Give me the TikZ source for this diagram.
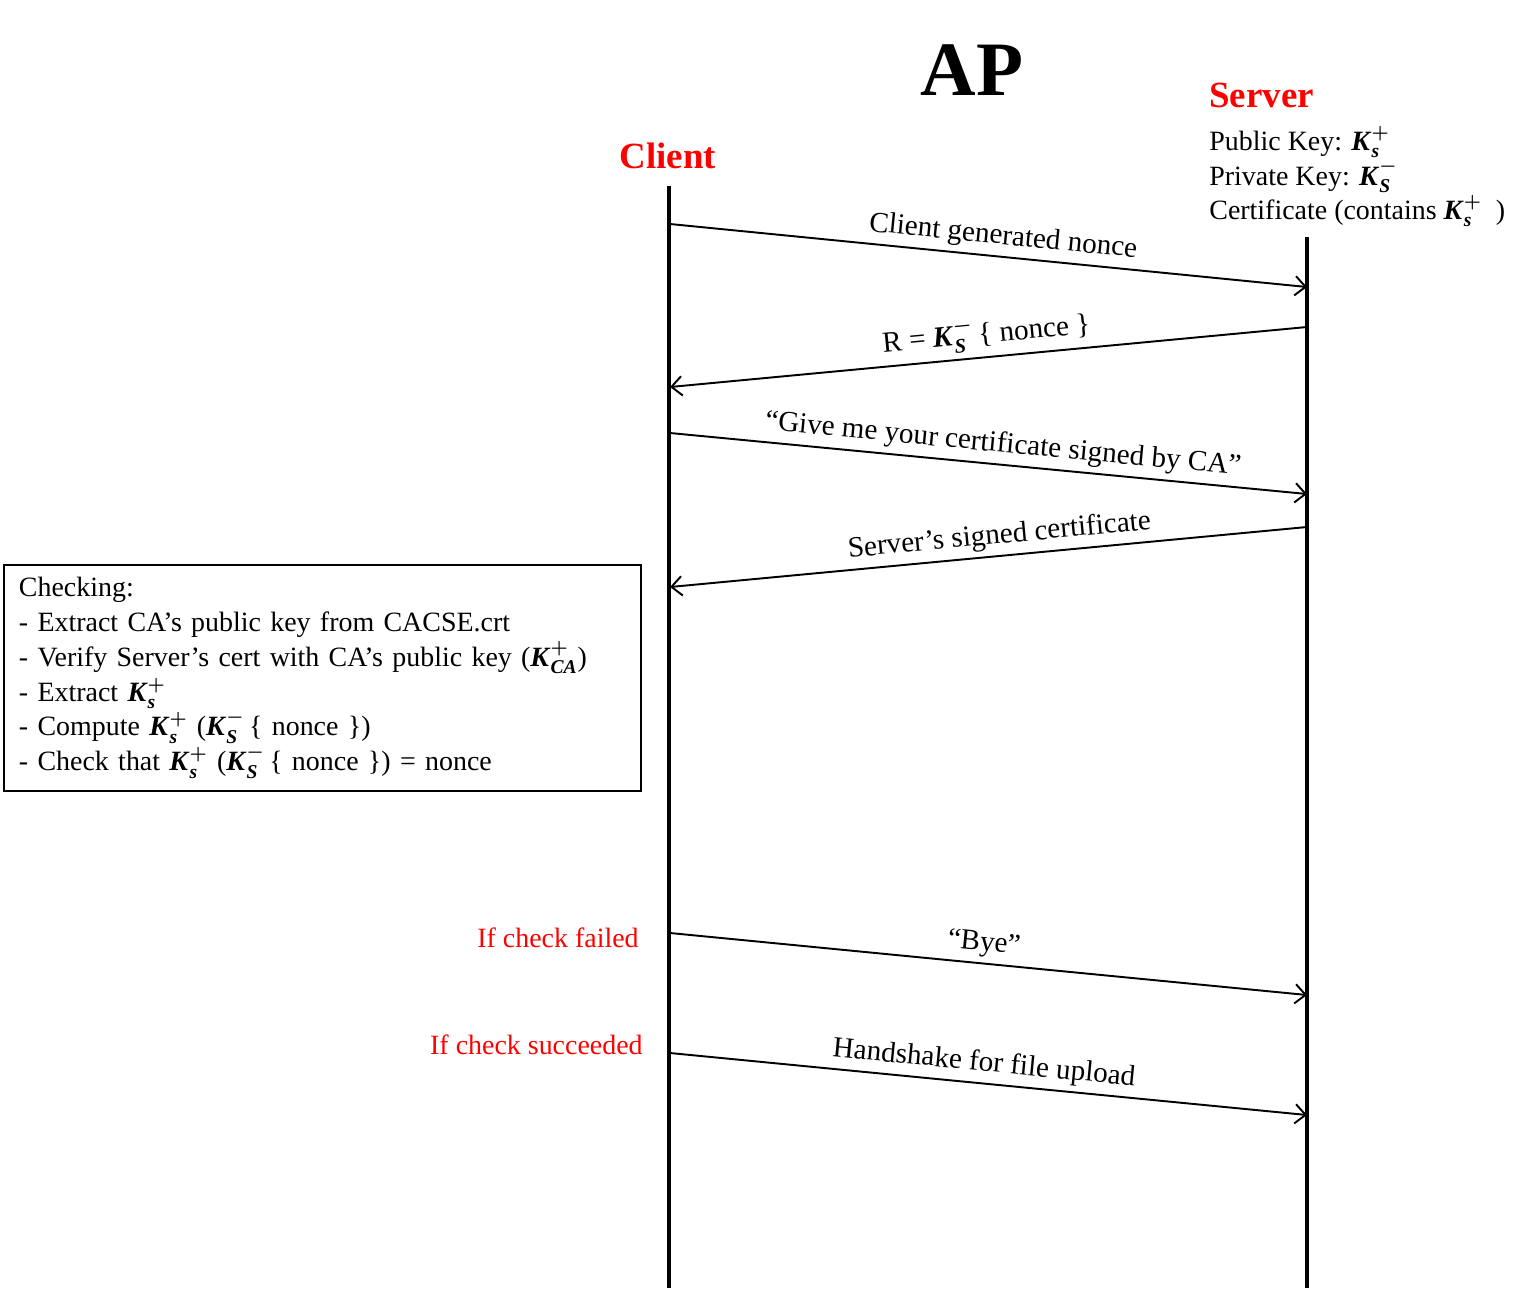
\documentclass[tikz,border=0pt]{standalone}
\usepackage{amsmath}
\usepackage{fontspec}
\setmainfont{Liberation Serif}
\usetikzlibrary{arrows, arrows.meta}
\usetikzlibrary{positioning}
\newcommand{\kpub}{\textbf{\textit{K}}$^{\boldsymbol{+}}_{\textbf{\textit{s}}}$}
\newcommand{\kpriv}{\textbf{\textit{K}}$^{\boldsymbol{-}}_{\textbf{\textit{S}}}$}
\newcommand{\kca}{\textbf{\textit{K}}$^{\boldsymbol{+}}_{\textbf{\textit{CA}}}$}
\tikzset{
  txt/.style={font=\fontsize{15.9}{19.8}\selectfont, inner sep=0pt},
  head/.style={font=\fontsize{21}{25}\selectfont\bfseries, text=red, inner sep=0pt},
  ttl/.style={font=\fontsize{43.8}{50}\selectfont\bfseries, inner sep=0pt},
  life/.style={line width=2.3pt},
  msg/.style={-{Straight Barb[length=6pt, width=11pt]}, line width=1.1pt},
  lbl/.style={font=\fontsize{16.6}{20}\selectfont, sloped, above, inner sep=3pt}
}

\begin{document}
\begin{tikzpicture}[x=0.02cm, y=-0.02cm]
\useasboundingbox (0,0) rectangle (1527,1292);
%% title
  \node[ttl, anchor=base] (ap) at (972,95) {AP};
%% client and server
  \node[head, anchor=base] (client) at (668,168) {Client};
  \node[head, anchor=base west] (server) at (1209,107) {Server};
  \node[txt, anchor=base west] (pub) at (1209,150) {Public Key: \kpub};
  \node[txt, anchor=base west] (priv) at (1209,185) {Private Key: \kpriv};
  \node[txt, anchor=base west] (cert) at (1209,219) {Certificate (contains \kpub\ \ )};
%% life lines
  \coordinate (ctop) at (669,186);
  \coordinate (cbot) at (669,1288);
  \coordinate (stop) at (1307,237);
  \coordinate (sbot) at (1307,1288);
  \draw[life] (ctop) -- (cbot);
  \draw[life] (stop) -- (sbot);
%% messages
  \foreach \n/\ya/\yb in {1/224/287, 2/387/327, 3/433/494, 4/587/527, 5/933/995, 6/1053/1115}
  {
    \coordinate (c\n) at (670,\ya);
    \coordinate (s\n) at (1307,\yb);
  }
  \draw[msg] (c1) -- node[lbl, pos=0.52] {Client generated nonce} (s1);
  \draw[msg] (s2) -- node[lbl] {R = \kpriv\,\{ nonce \}} (c2);
  \draw[msg] (c3) -- node[lbl, pos=0.52] {“Give me your certificate signed by CA”} (s3);
  \draw[msg] (s4) -- node[lbl, pos=0.48] {Server’s signed certificate} (c4);
  \draw[msg] (c5) -- node[lbl, pos=0.49] {“Bye”} (s5);
  \draw[msg] (c6) -- node[lbl, pos=0.49] {Handshake for file upload} (s6);
%% checking box
  \node[txt, draw, line width=1.1pt, anchor=north west, align=left,
        minimum width=12.74cm, minimum height=4.52cm, text width=12.14cm, inner xsep=0.3cm]
        (check) at (3,564)
        {Checking:\\
         - Extract CA’s public key from CACSE.crt\\
         - Verify Server’s cert with CA’s public key (\kca)\\
         - Extract \kpub\\
         - Compute \kpub\ (\kpriv\,\{ nonce \})\\
         - Check that \kpub\ (\kpriv\,\{ nonce \}) = nonce};
%% outcomes
  \node[txt, text=red, anchor=base east] (fail) at (639,947) {If check failed};
  \node[txt, text=red, anchor=base east] (succ) at (643,1054) {If check succeeded};
\end{tikzpicture}
\end{document}
